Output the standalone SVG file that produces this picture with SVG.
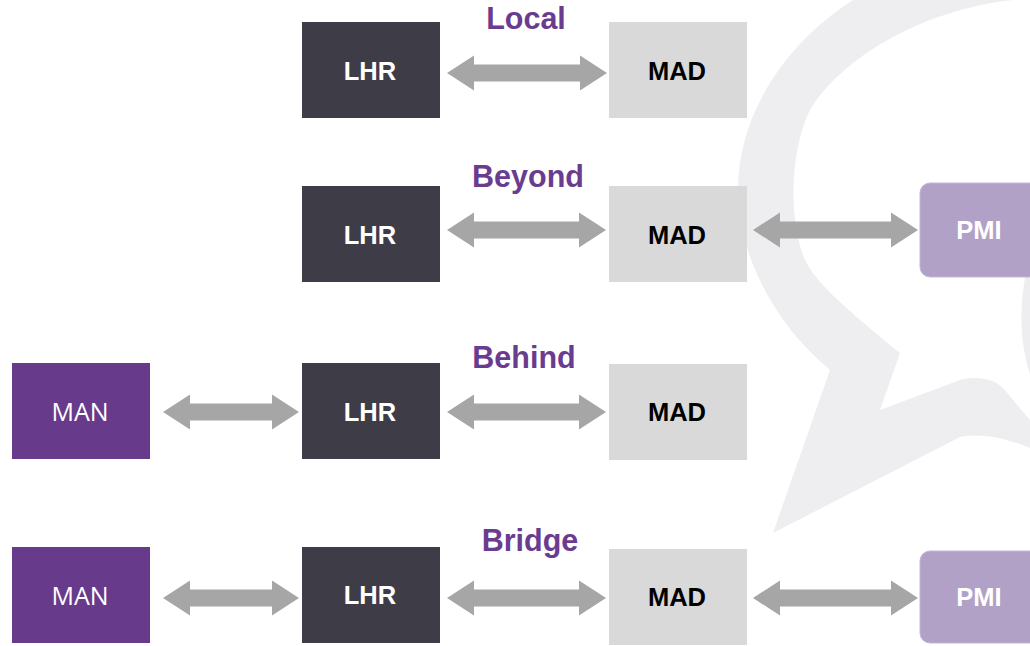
<svg xmlns="http://www.w3.org/2000/svg" width="1030" height="646" viewBox="0 0 1030 646">
  <style>
    .lhr { fill: #3e3c47; }
    .mad { fill: #d9d9d9; }
    .man { fill: #683a8b; }
    .pmi { fill: #b1a1c7; stroke: #c4b7d6; stroke-width: 1; }
    .arrow { fill: #a6a6a6; }
    .bold { font-family: "Liberation Sans", Arial, sans-serif; font-weight: bold; font-size: 25.5px; text-anchor: middle; }
    .reg { font-family: "Open Sans", "Liberation Sans", sans-serif; font-size: 25px; text-anchor: middle; fill: #ffffff; }
    .white { fill: #ffffff; }
    .black { fill: #000000; }
    .title { font-family: "Liberation Sans", Arial, sans-serif; font-weight: bold; font-size: 30.5px; text-anchor: middle; fill: #6a3c90; }
    .bg { fill: #eeeef0; }
  </style>
  <rect x="0" y="0" width="1030" height="646" fill="#ffffff"/>

  <g id="background-bubble">
    <path class="bg" fill-rule="evenodd" d="M 870,-10 L 853,0 C 790,40 738,110 738,190 C 738,250 770,320 830,370 L 773,533 L 960,437 C 985,432 1010,440 1030,448 L 1040,448 L 1040,-10 Z
      M 1013,0 C 920,10 840,60 810,110 C 790,150 788,220 805,260 C 815,280 835,300 900,353 L 880,410 L 960,380 C 980,375 995,380 1003,388 L 1030,420 L 1040,420 L 1040,0 Z"/>
    <path class="bg" d="M 1032,250 C 1019,290 1017,340 1032,380 Z"/>
  </g>

  <g id="labels">
    <text class="title" x="526" y="29">Local</text>
    <text class="title" x="528" y="187">Beyond</text>
    <text class="title" x="524" y="368">Behind</text>
    <text class="title" x="530" y="551">Bridge</text>
  </g>

  <g id="connectors">
    <polygon class="arrow" points="447,73 474,55.5 474,64.5 580,64.5 580,55.5 607,73 580,90.5 580,81.5 474,81.5 474,90.5"/>
    <polygon class="arrow" points="447,230 474,212.5 474,221.5 579,221.5 579,212.5 606,230 579,247.5 579,238.5 474,238.5 474,247.5"/>
    <polygon class="arrow" points="753,230 780,212.5 780,221.5 891,221.5 891,212.5 918,230 891,247.5 891,238.5 780,238.5 780,247.5"/>
    <polygon class="arrow" points="163,412 190,394.5 190,403.5 272,403.5 272,394.5 299,412 272,429.5 272,420.5 190,420.5 190,429.5"/>
    <polygon class="arrow" points="447,412 474,394.5 474,403.5 579,403.5 579,394.5 606,412 579,429.5 579,420.5 474,420.5 474,429.5"/>
    <polygon class="arrow" points="163,598 190,580.5 190,589.5 272,589.5 272,580.5 299,598 272,615.5 272,606.5 190,606.5 190,615.5"/>
    <polygon class="arrow" points="447,598 474,580.5 474,589.5 579,589.5 579,580.5 606,598 579,615.5 579,606.5 474,606.5 474,615.5"/>
    <polygon class="arrow" points="753,598 780,580.5 780,589.5 891,589.5 891,580.5 918,598 891,615.5 891,606.5 780,606.5 780,615.5"/>
  </g>

  <g id="local-lhr">
    <rect class="lhr" x="302" y="22" width="138" height="96"/>
    <text class="bold white" x="370" y="80">LHR</text>
  </g>
  <g id="local-mad">
    <rect class="mad" x="609" y="22" width="138" height="96"/>
    <text class="bold black" x="677" y="80">MAD</text>
  </g>

  <g id="beyond-lhr">
    <rect class="lhr" x="302" y="186" width="138" height="96"/>
    <text class="bold white" x="370" y="244">LHR</text>
  </g>
  <g id="beyond-mad">
    <rect class="mad" x="609" y="186" width="138" height="96"/>
    <text class="bold black" x="677" y="244">MAD</text>
  </g>
  <g id="beyond-pmi">
    <rect class="pmi" x="920" y="183" width="125" height="94" rx="10" ry="10"/>
    <text class="bold white" x="979" y="239">PMI</text>
  </g>

  <g id="behind-man">
    <rect class="man" x="12" y="363" width="138" height="96"/>
    <text class="reg" x="80" y="421">MAN</text>
  </g>
  <g id="behind-lhr">
    <rect class="lhr" x="302" y="363" width="138" height="96"/>
    <text class="bold white" x="370" y="421">LHR</text>
  </g>
  <g id="behind-mad">
    <rect class="mad" x="609" y="364" width="138" height="96"/>
    <text class="bold black" x="677" y="421">MAD</text>
  </g>

  <g id="bridge-man">
    <rect class="man" x="12" y="547" width="138" height="96"/>
    <text class="reg" x="80" y="605">MAN</text>
  </g>
  <g id="bridge-lhr">
    <rect class="lhr" x="302" y="547" width="138" height="96"/>
    <text class="bold white" x="370" y="604">LHR</text>
  </g>
  <g id="bridge-mad">
    <rect class="mad" x="609" y="549" width="138" height="96"/>
    <text class="bold black" x="677" y="606">MAD</text>
  </g>
  <g id="bridge-pmi">
    <rect class="pmi" x="920" y="551" width="125" height="92" rx="10" ry="10"/>
    <text class="bold white" x="979" y="606">PMI</text>
  </g>
</svg>
